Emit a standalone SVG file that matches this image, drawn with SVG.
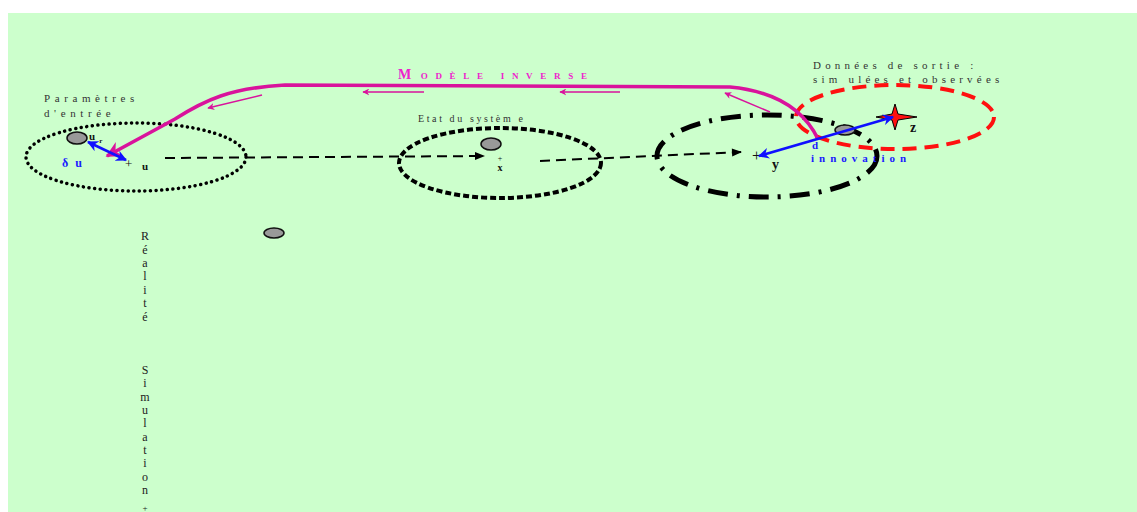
<svg xmlns="http://www.w3.org/2000/svg" width="1137" height="512" viewBox="0 0 1137 512">
<style>
.lbl{font-family:"Liberation Serif",serif;font-size:11px;fill:#333;letter-spacing:4.2px}
.b{font-family:"Liberation Serif",serif;font-weight:bold;font-size:12px;fill:#111}
.bl{font-family:"Liberation Serif",serif;font-weight:bold;font-size:11px;fill:#1a1aff}
.gray{fill:#999;stroke:#111;stroke-width:1.5}
.mg{stroke:#D9139C;fill:none}
.vt{font-family:"Liberation Serif",serif;font-size:12px;fill:#222;text-anchor:middle}
</style>
<defs>
<marker id="mgA" viewBox="0 0 10 10" refX="9" refY="5" markerWidth="7" markerHeight="7" orient="auto-start-reverse" markerUnits="userSpaceOnUse">
<path d="M0,0 L10,5 L0,10 L3,5 Z" fill="#D9139C"/>
</marker>
<marker id="mgB" viewBox="0 0 10 10" refX="9" refY="5" markerWidth="16" markerHeight="16" orient="auto-start-reverse" markerUnits="userSpaceOnUse">
<path d="M0,0 L10,5 L0,10 L3,5 Z" fill="#D9139C"/>
</marker>
<marker id="bkA" viewBox="0 0 10 10" refX="9" refY="5" markerWidth="14" markerHeight="10" orient="auto" markerUnits="userSpaceOnUse">
<path d="M0,1 L10,5 L0,9 Z" fill="#000"/>
</marker>
<marker id="blA" viewBox="0 0 10 10" refX="9" refY="5" markerWidth="11" markerHeight="11" orient="auto-start-reverse" markerUnits="userSpaceOnUse">
<path d="M0,0 L10,5 L0,10 L3,5 Z" fill="#1010ff"/>
</marker>
</defs>
<rect x="8" y="13" width="1129" height="499" fill="#CCFFCC"/>

<g id="n-entree">
<ellipse cx="136" cy="157" rx="110" ry="34" fill="none" stroke="#000" stroke-width="3.5" stroke-dasharray="0.1 5.5" stroke-linecap="round"/>
<text class="lbl" x="44" y="102" style="letter-spacing:4.6px">Paramètres</text>
<text class="lbl" x="44" y="117" style="letter-spacing:4.6px">d'entrée</text>
<ellipse class="gray" cx="77" cy="138" rx="10" ry="6"/>
<text class="b" x="89" y="140" style="font-size:11px">u<tspan style="font-size:7px" dx="4" dy="3">r</tspan></text>
<text class="bl" x="62" y="167" style="font-size:12px;letter-spacing:2px">δ u</text>
<text x="125" y="168" font-family="Liberation Serif,serif" font-size="13" fill="#111">+</text>
<text class="b" x="142" y="170" style="font-size:11px">u</text>
</g>

<g id="n-etat">
<ellipse cx="500" cy="163" rx="101" ry="35" fill="none" stroke="#000" stroke-width="4" stroke-dasharray="6 3"/>
<text class="lbl" x="418" y="122" style="font-size:10px;letter-spacing:2.6px">Etat du systèm e</text>
<ellipse class="gray" cx="491" cy="144" rx="10" ry="6"/>
<text font-family="Liberation Serif,serif" fill="#111" text-anchor="middle"><tspan x="500" y="161" font-size="8">+</tspan><tspan x="500" y="171" font-size="10" font-weight="bold">x</tspan></text>
</g>

<g id="n-sortie">
<ellipse cx="767" cy="156" rx="110" ry="41" fill="none" stroke="#000" stroke-width="5" stroke-dasharray="20 9 3 9"/>
<ellipse cx="895" cy="117" rx="99" ry="32" fill="none" stroke="#ff1010" stroke-width="4" stroke-dasharray="14 8"/>
<text class="lbl" x="813" y="69">Données de sortie :</text>
<text class="lbl" x="813" y="83">sim ulées et observées</text>
<ellipse class="gray" cx="845" cy="130" rx="10" ry="5"/>
<path d="M895,104 L898,114 L917,117 L898,120 L895,130 L892,120 L876,117 L892,114 Z" fill="#ff1010" stroke="#000" stroke-width="1"/>
<text class="b" x="910" y="132" style="font-size:14px">z</text>
<text x="752" y="161" font-family="Liberation Serif,serif" font-size="16" fill="#111">+</text>
<text class="b" x="772" y="169" style="font-size:14px">y</text>
<text class="bl" x="812" y="149">d</text>
<text class="bl" x="811" y="162" style="letter-spacing:5px">innovation</text>
</g>

<g id="n-realite">
<ellipse class="gray" cx="274" cy="233" rx="10" ry="5"/>
<text class="vt" x="145" y="240">R</text>
<text class="vt" x="145" y="254">é</text>
<text class="vt" x="145" y="267">a</text>
<text class="vt" x="145" y="280">l</text>
<text class="vt" x="145" y="294">i</text>
<text class="vt" x="145" y="307">t</text>
<text class="vt" x="145" y="321">é</text>
<text class="vt" x="145" y="374">S</text>
<text class="vt" x="145" y="387">i</text>
<text class="vt" x="145" y="401">m</text>
<text class="vt" x="145" y="414">u</text>
<text class="vt" x="145" y="427">l</text>
<text class="vt" x="145" y="441">a</text>
<text class="vt" x="145" y="454">t</text>
<text class="vt" x="145" y="467">i</text>
<text class="vt" x="145" y="481">o</text>
<text class="vt" x="145" y="494">n</text>
<text class="vt" x="145" y="511" style="font-size:9px">+</text>
</g>

<g id="connectors">
<line x1="165" y1="158" x2="484" y2="156" stroke="#000" stroke-width="2" stroke-dasharray="10 6" marker-end="url(#bkA)"/>
<line x1="540" y1="161" x2="741" y2="152" stroke="#000" stroke-width="2" stroke-dasharray="10 6" marker-end="url(#bkA)"/>
<path class="mg" d="M107,156 L175,119 C205,100 230,88 285,85 L730,87 C772,91 803,108 818,139" stroke-width="3.5" marker-start="url(#mgB)"/>
<line class="mg" x1="262" y1="95" x2="208" y2="108" stroke-width="1.5" marker-end="url(#mgA)"/>
<line class="mg" x1="424" y1="92" x2="363" y2="92" stroke-width="1.5" marker-end="url(#mgA)"/>
<line class="mg" x1="620" y1="92" x2="560" y2="92" stroke-width="1.5" marker-end="url(#mgA)"/>
<line class="mg" x1="770" y1="112" x2="725" y2="93" stroke-width="1.5" marker-end="url(#mgA)"/>
<line x1="88" y1="142" x2="126" y2="160" stroke="#1010ff" stroke-width="2.5" marker-start="url(#blA)" marker-end="url(#blA)"/>
<line x1="759" y1="156" x2="893" y2="117" stroke="#1010ff" stroke-width="2.5" marker-start="url(#blA)" marker-end="url(#blA)"/>
<text x="398" y="79" font-family="Liberation Serif,serif" font-weight="bold" font-size="14" fill="#EE22CC" letter-spacing="3">M <tspan font-size="9" letter-spacing="7.7">ODÈLE INVERSE</tspan></text>
</g>
</svg>
